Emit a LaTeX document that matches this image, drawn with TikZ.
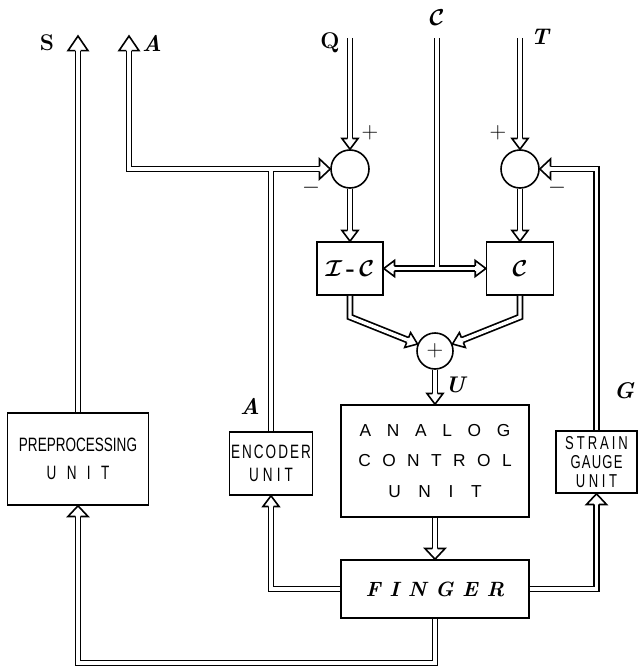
\documentclass[tikz,border=0pt]{standalone}
\usepackage{fontspec}
\usetikzlibrary{arrows.meta}
\newfontfamily\condf{Liberation Sans}[FakeStretch=0.7]
\newfontfamily\widef{Liberation Sans}
\newcommand\spr[2]{\makebox[#1][s]{#2}}
\newcommand\calbold[1]{\mbox{\boldmath$\mathcal{#1}$}}

\pgfdeclarearrow{
  name = Hol,
  parameters = {\the\pgfarrowlength,\the\pgfarrowwidth},
  setup code = {
    \pgfarrowssettipend{0pt}
    \pgfarrowssetlineend{-\pgfarrowlength}
    \pgfarrowssetbackend{-\pgfarrowlength}
    \pgfarrowshullpoint{0pt}{0pt}
    \pgfarrowsupperhullpoint{-\pgfarrowlength}{.5\pgfarrowwidth}
    \pgfarrowssave\pgfarrowlength
    \pgfarrowssave\pgfarrowwidth
  },
  drawing code = {
    \pgfsetdash{}{0pt}
    \pgfsetmiterjoin
    \pgfsetbuttcap
    \pgfsetlinewidth{1.2pt}
    \pgfpathmoveto{\pgfqpoint{0pt}{0pt}}
    \pgfpathlineto{\pgfqpoint{-\pgfarrowlength}{.5\pgfarrowwidth}}
    \pgfpathlineto{\pgfqpoint{-\pgfarrowlength}{-.5\pgfarrowwidth}}
    \pgfpathclose
    \pgfsetfillcolor{white}
    \pgfusepathqfill
    \pgfpathmoveto{\pgfqpoint{-\pgfarrowlength}{1.95pt}}
    \pgfpathlineto{\pgfqpoint{-\pgfarrowlength}{.5\pgfarrowwidth}}
    \pgfpathlineto{\pgfqpoint{0pt}{0pt}}
    \pgfpathlineto{\pgfqpoint{-\pgfarrowlength}{-.5\pgfarrowwidth}}
    \pgfpathlineto{\pgfqpoint{-\pgfarrowlength}{-1.95pt}}
    \pgfsetstrokecolor{black}
    \pgfusepathqstroke
  },
  defaults = {length = 8pt, width = 13pt}
}

\tikzset{
  dbl/.style={draw=black, line width=1.3pt, double=white, double distance=2.6pt},
  blk/.style={draw, line width=1.2pt, inner sep=0pt},
  sumc/.style={circle, draw, line width=1.2pt, inner sep=0pt},
  lbl/.style={font=\fontsize{17}{19}\selectfont\bfseries\itshape},
  lblu/.style={font=\fontsize{17}{19}\selectfont\bfseries},
  pm/.style={font=\fontsize{18}{20}\selectfont},
  ahs/.style={-{Hol[length=8pt,width=12pt]}},
  ahw/.style={-{Hol[length=8pt,width=15pt]}},
  ahb/.style={-{Hol[length=11pt,width=15pt]}},
}

\begin{document}
\begin{tikzpicture}[x=0.75pt, y=-0.75pt]
\useasboundingbox (0,0) rectangle (638,667);

% summing junctions
\node[sumc, minimum size=28.5pt] (s1) at (350,169) {};
\node[sumc, minimum size=28.5pt] (s2) at (520,169) {};
\node[sumc, minimum size=27pt, font=\fontsize{19}{20}\selectfont] (s3) at (435,351) {$+$};

% blocks
\node[blk, minimum width=49.5pt, minimum height=39.75pt, font=\fontsize{18}{20}\selectfont] (jc) at (350,268.5) {\calbold{I}\,\textbf{-}\,\calbold{C}};
\node[blk, minimum width=50pt, minimum height=39.75pt, font=\fontsize{18}{20}\selectfont] (cb) at (520,268.5) {\calbold{C}};
\node[blk, align=center, minimum width=141pt, minimum height=84pt, font=\widef\fontsize{13}{23}\selectfont] (ana) at (435,461)
      {\spr{113pt}{A\hfill N\hfill A\hfill L\hfill O\hfill G}\\
       \spr{115pt}{C\hfill O\hfill N\hfill T\hfill R\hfill O\hfill L}\\
       \spr{70pt}{U\hfill N\hfill I\hfill T}};
\node[blk, minimum width=141pt, minimum height=43.5pt, font=\fontsize{15.5}{17}\selectfont\bfseries\itshape] (fin) at (435,589)
      {\spr{104pt}{F\hfill I\hfill N\hfill G\hfill E\hfill R}};
\node[blk, align=center, minimum width=62.25pt, minimum height=47.25pt, font=\condf\fontsize{14.5}{17}\selectfont] (enc) at (271,463.5)
      {\spr{60pt}{E\hfill N\hfill C\hfill O\hfill D\hfill E\hfill R}\\
       \spr{33pt}{U\hfill N\hfill I\hfill T}};
\node[blk, align=center, minimum width=60.75pt, minimum height=46.5pt, font=\condf\fontsize{14}{14.5}\selectfont] (sg) at (596.5,462)
      {\spr{47pt}{S\hfill T\hfill R\hfill A\hfill I\hfill N}\\
       \spr{39pt}{G\hfill A\hfill U\hfill G\hfill E}\\
       \spr{31pt}{U\hfill N\hfill I\hfill T}};
\node[blk, align=center, minimum width=105.75pt, minimum height=69pt, font=\condf\fontsize{14.5}{21}\selectfont] (pre) at (78,459)
      {PREPROCESSING\\
       \spr{47pt}{U\hfill N\hfill I\hfill T}};

% coordinates
\coordinate (Stop) at (78,36);
\coordinate (Atop) at (129,36);
\coordinate (Acor) at (129,169);
\coordinate (pA2) at (129,100);
\coordinate (jA) at (271,169);
\coordinate (pA) at (300,169);
\coordinate (Qtop) at (350,38);
\coordinate (Ttop) at (520,38);
\coordinate (Ctop) at (437,38);
\coordinate (jC) at (437,268.5);
\coordinate (pL) at (412,268.5);
\coordinate (pR) at (462,268.5);
\coordinate (k1) at (350,317);
\coordinate (k2) at (520,317);
\coordinate (bot) at (78,663);

% connectors
\draw[dbl, ahb] (pre.north) -- (Stop);
\draw[dbl] (pA2) -- (Acor) -- (pA) (jA) -- (enc.north);
\draw[dbl, ahb] (pA2) -- (Atop);
\draw[dbl, ahw] (pA) -- (s1.west);
\draw[dbl, ahs] (Qtop) -- (s1.north);
\draw[dbl, ahs] (Ttop) -- (s2.north);
\draw[dbl, ahs] (s1.south) -- (jc.north);
\draw[dbl, ahs] (s2.south) -- (cb.north);
\draw[dbl] (Ctop) -- (jC) (pL) -- (pR);
\draw[dbl, ahs] (pL) -- (jc.east);
\draw[dbl, ahs] (pR) -- (cb.west);
\draw[dbl, ahs] (jc.south) -- (k1) -- (s3);
\draw[dbl, ahs] (cb.south) -- (k2) -- (s3);
\draw[dbl, ahs] (s3.south) -- (ana.north);
\draw[dbl, ahw] (ana.south) -- (fin.north);
\draw[dbl, ahs] (fin.west) -| (enc.south);
\draw[dbl, ahw] (fin.east) -| (sg.south);
\draw[dbl, ahw] (sg.north) |- (s2.east);
\draw[dbl, ahw] (fin.south) |- (bot) -- (pre.south);

% labels
\node[lblu] (lS) at (47,43) {S};
\node[lbl] (lA) at (152,43) {A};
\node[lblu] (lQ) at (330,43) {Q};
\node[font=\fontsize{18}{19}\selectfont] (lC) at (437,18) {\calbold{C}};
\node[lbl] (lT) at (540,37) {T};
\node[pm] (p1) at (370,133) {$+$};
\node[pm] (p2) at (498,133) {$+$};
\node[pm] (m1) at (311,188) {$-$};
\node[pm] (m2) at (557,188) {$-$};
\node[lbl] (lA2) at (250,406) {A};
\node[lbl] (lU) at (455,385) {U};
\node[lbl] (lG) at (624,391) {G};
\end{tikzpicture}
\end{document}
